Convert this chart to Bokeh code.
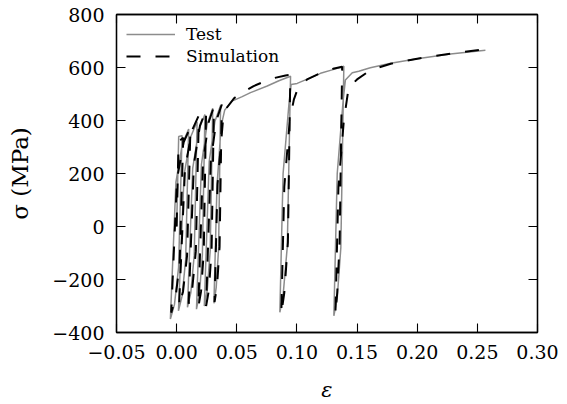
from bokeh.plotting import figure
from bokeh.models import Range1d, FixedTicker, LinearAxis, Legend, LegendItem
from bokeh.embed import file_html
from bokeh.resources import INLINE

# ---- data ----
test_strain = [0.0, 0.0017, 0.0045,
               0.0016, -0.0018, -0.0052,
               -0.0006, 0.0047, 0.0100,
               0.0075, 0.0045, 0.0015,
               0.0062, 0.0116, 0.0170,
               0.0146, 0.0118, 0.0090,
               0.01335, 0.0184, 0.0235,
               0.0214, 0.0190, 0.0165,
               0.0206, 0.0253, 0.0300,
               0.0279, 0.02545, 0.0230,
               0.02705, 0.0318, 0.0365,
               0.0349, 0.0329, 0.0310,
               0.0335, 0.0370, 0.0400, 0.0460, 0.0545, 0.0614, 0.0753, 0.0850, 0.0947,
               0.0920, 0.0885, 0.0858,
               0.0885, 0.0935, 0.0952, 0.1002, 0.1110, 0.1196, 0.1300, 0.1390,
               0.1365, 0.1335, 0.1307,
               0.1335, 0.1385, 0.1403, 0.1460, 0.1514, 0.1610, 0.1780, 0.2000, 0.2276, 0.2567]
test_stress = [0, 340, 343,
               -155, -294, -349,
               167, 311, 368,
               -126, -263, -318,
               195, 338, 395,
               -109, -249, -305,
               219, 365, 423,
               -106, -253, -312,
               234, 385, 446,
               -91, -240, -300,
               245, 396, 457,
               -81, -230, -290,
               150, 380, 440, 473, 490, 505, 530, 550, 567,
               -75, -260, -324,
               200, 470, 536, 540, 561, 578, 592, 605,
               -80, -270, -337,
               200, 480, 553, 580, 586, 599, 616, 633, 651, 665]

sim_strain = [0.0, 0.0016, 0.0055,
              0.0025, -0.0010, -0.0045,
              0.0003, 0.0059, 0.0115,
              0.00865, 0.0053, 0.0020,
              0.00695, 0.0127, 0.0185,
              0.01595, 0.01298, 0.0100,
              0.01435, 0.0194, 0.0245,
              0.02255, 0.0203, 0.0180,
              0.0219, 0.02645, 0.0310,
              0.02905, 0.0268, 0.0245,
              0.0284, 0.03295, 0.0375,
              0.0357, 0.0336, 0.0315,
              0.0340, 0.0385, 0.0420, 0.0480, 0.0545, 0.0640, 0.0780, 0.0905, 0.0945,
              0.0925, 0.0895, 0.0870,
              0.0895, 0.0940, 0.0975, 0.1000, 0.1085, 0.1200, 0.1300, 0.1376,
              0.1355, 0.1335, 0.1320,
              0.1345, 0.1390, 0.1430, 0.1500, 0.1610, 0.1780, 0.2000, 0.2276, 0.2540]
sim_stress = [0, 320, 335,
              -140, -272, -325,
              179, 319, 375,
              -111, -246, -300,
              218, 362, 420,
              -93, -235, -292,
              235, 381, 440,
              -96, -245, -305,
              240, 391, 452,
              -89, -240, -300,
              247, 399, 460,
              -76, -225, -285,
              160, 400, 450, 485, 505, 530, 557, 570, 572,
              -60, -250, -330,
              150, 400, 480, 511, 555, 580, 595, 603,
              -60, -250, -330,
              150, 400, 524, 555, 590, 614, 633, 652, 668]

x_ticks = [-0.05, 0.0, 0.05, 0.10, 0.15, 0.20, 0.25, 0.30]
x_tick_labels = ["\u22120.05", "0.00", "0.05", "0.10", "0.15", "0.20", "0.25", "0.30"]
y_ticks = [-400, -200, 0, 200, 400, 600, 800]
y_tick_labels = ["\u2212400", "\u2212200", "0", "200", "400", "600", "800"]
series_names = ["Test", "Simulation"]
x_label = "\u03b5"
y_label = "\u03c3 (MPa)"

FONT = "DejaVu Serif"

p = figure(width=567, height=404, output_backend="svg", toolbar_location=None,
           x_range=Range1d(-0.05, 0.30), y_range=Range1d(-400, 800),
           min_border_left=116, min_border_top=14, min_border_right=30, min_border_bottom=71,
           x_axis_type=None, y_axis_type=None)
p.grid.visible = False
p.outline_line_color = "black"
p.outline_line_width = 1.3
p.background_fill_color = "white"
p.border_fill_color = "white"


def make_axis(ticks, labels, show_labels):
    ax = LinearAxis(ticker=FixedTicker(ticks=ticks))
    ax.major_label_overrides = {t: (l if show_labels else "") for t, l in zip(ticks, labels)}
    ax.major_tick_in = 9
    ax.major_tick_out = 0
    ax.major_tick_line_color = "black"
    ax.major_tick_line_width = 1.1
    ax.minor_tick_line_color = None
    ax.axis_line_color = "black"
    ax.axis_line_width = 1.3
    ax.major_label_text_font = FONT
    ax.major_label_text_font_size = "19px" if show_labels else "0px"
    ax.major_label_text_color = "black"
    ax.major_label_standoff = 12 if show_labels else 0
    ax.axis_label_text_font = FONT
    ax.axis_label_text_font_style = "normal"
    ax.axis_label_text_font_size = "23px"
    ax.axis_label_text_color = "black"
    return ax


xb = make_axis(x_ticks, x_tick_labels, True)
xb.axis_label = x_label
xb.axis_label_text_font_style = "italic"
xb.axis_label_text_font_size = "21px"
xb.axis_label_standoff = 16
yl = make_axis(y_ticks, y_tick_labels, True)
yl.major_label_standoff = 12
yl.axis_label = y_label
yl.axis_label_standoff = 16
xt = make_axis(x_ticks, x_tick_labels, False)
yr = make_axis(y_ticks, y_tick_labels, False)
p.add_layout(xb, "below")
p.add_layout(yl, "left")
p.add_layout(xt, "above")
p.add_layout(yr, "right")

r_test = p.line(test_strain, test_stress, line_color="#8c8c8c", line_width=1.5)
r_sim = p.line(sim_strain, sim_stress, line_color="black", line_width=2, line_dash="14 15")

legend = Legend(items=[LegendItem(label=series_names[0], renderers=[r_test]),
                       LegendItem(label=series_names[1], renderers=[r_sim])],
                location="top_left")
legend.label_text_font = FONT
legend.label_text_font_size = "17px"
legend.label_text_color = "black"
legend.glyph_width = 49
legend.glyph_height = 20
legend.label_height = 20
legend.label_standoff = 11
legend.spacing = 2
legend.padding = 0
legend.margin = 10
legend.border_line_color = None
legend.background_fill_alpha = 0
p.add_layout(legend)

open("out.html", "w").write(file_html(p, INLINE))
